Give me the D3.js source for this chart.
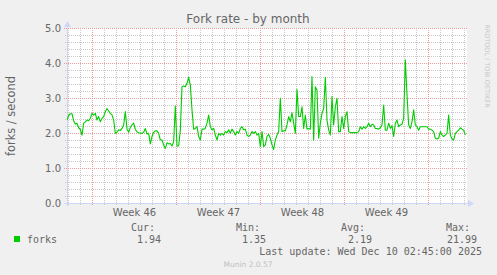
<!DOCTYPE html>
<html>
<head>
<meta charset="utf-8">
<script src="https://cdn.jsdelivr.net/npm/d3@7/dist/d3.min.js"></script>
<style>
  body { margin: 0; background: #F0F0F0; }
  svg { display: block; }
  .sans { font-family: "DejaVu Sans", sans-serif; fill: #666; }
  .mono { font-family: "DejaVu Sans Mono", monospace; fill: #666; }
</style>
</head>
<body>
<svg id="chart" width="497" height="275"></svg>
<script>
(function() {
  'use strict';

  // data (one value every 200 minutes)
  var seriesStart = '2025-11-07T22:00:00Z';
  var seriesStepMinutes = 200;

  var forksWeek45 = [2.37, 2.50, 2.55, 2.55, 2.35, 2.26, 2.28, 2.15, 2.10, 1.94,
    2.28, 2.32, 2.37, 2.35, 2.42, 2.56, 2.51, 2.56, 2.37, 2.47,
    2.32, 2.42, 2.47, 2.61, 2.70, 2.63, 2.56, 2.52, 2.37, 1.99,
    2.02, 2.09, 2.07, 2.13, 2.23, 2.61, 2.11, 2.02, 2.16, 2.23,
    2.28, 2.10, 2.04, 2.00, 2.00, 1.99, 2.02, 2.13, 1.97, 1.99,
    1.69, 1.90, 2.02, 2.06, 2.06, 1.99, 1.80, 1.80, 1.66];

  var forksWeek46 = [1.56, 1.72, 1.69, 1.70, 1.63, 1.75, 2.77, 1.63, 1.63, 2.09,
    3.32, 3.34, 3.32, 3.42, 3.59, 3.37, 2.66, 2.11, 2.13, 2.18,
    1.90, 1.80, 2.11, 2.11, 2.13, 2.28, 2.51, 2.18, 2.09, 2.13,
    1.94, 1.80, 1.99, 1.94, 1.99, 1.94, 2.04, 2.01, 2.09, 1.99,
    2.11, 2.04, 1.94, 2.04, 1.99, 2.13, 2.18, 2.09, 2.11, 1.94,
    1.90, 1.94, 2.04, 1.99, 2.04, 1.94, 1.99, 1.61, 2.04, 1.61];

  var forksWeek47 = [1.66, 1.90, 1.96, 1.85, 1.66, 1.53, 1.80, 1.94, 2.04, 2.99,
    2.04, 2.06, 2.06, 2.23, 2.47, 2.32, 2.58, 2.28, 1.99, 3.25,
    2.47, 2.47, 2.75, 2.13, 2.51, 2.11, 2.13, 2.11, 3.61, 1.80,
    3.32, 3.23, 1.85, 2.28, 2.56, 2.70, 3.59, 2.37, 2.09, 1.94,
    3.04, 2.23, 2.75, 2.99, 2.04, 2.04, 2.47, 2.13, 2.47, 2.61,
    2.04, 2.01, 2.01, 2.01, 2.01, 2.01, 2.04, 2.18, 2.11, 2.18];

  var forksWeek48 = [2.13, 2.18, 2.28, 2.18, 2.25, 2.23, 2.13, 2.13, 2.11, 2.15,
    2.23, 2.80, 2.08, 2.08, 2.28, 2.13, 2.21, 1.90, 2.28, 2.37,
    2.18, 2.23, 2.25, 2.42, 4.09, 3.10, 2.23, 2.13, 2.32, 2.66,
    2.23, 2.18, 2.08, 2.18, 2.18, 2.18, 2.18, 2.18, 2.11, 2.11,
    2.08, 2.04, 1.85, 1.83, 1.85, 2.04, 1.94, 1.90, 1.94, 1.99,
    2.51, 1.94, 1.83, 1.80, 1.99, 2.04, 2.08, 2.15, 2.11, 2.08, 1.94];

  var weekLabels = ['Week 46', 'Week 47', 'Week 48', 'Week 49'];
  var weekStarts = ['2025-11-10', '2025-11-17', '2025-11-24', '2025-12-01', '2025-12-08'];
  var yTicks = [0, 1, 2, 3, 4, 5];

  var legendHeads = ['Cur:', 'Min:', 'Avg:', 'Max:'];
  var legendValues = ['1.94', '1.35', '2.19', '21.99'];

  var colorLine = '#00CC00';
  var colorAxis = '#CFD6F8';
  var colorGrid = '#C8C8C8';
  var colorMajor = '#EE9A9A';

  var svg = d3.select('#chart');

  var x = d3.scaleUtc()
    .domain([new Date('2025-11-07T22:00:00Z'), new Date('2025-12-11T06:00:00Z')])
    .range([67, 467]);

  var y = d3.scaleLinear()
    .domain([0, 5])
    .range([203, 28]);

  var t0 = new Date(seriesStart).getTime();
  var forks = forksWeek45.concat(forksWeek46, forksWeek47, forksWeek48).map(function(v, i) {
    return { date: new Date(t0 + i * seriesStepMinutes * 60000), value: v };
  });

  var x0 = x.range()[0], x1 = x.range()[1];
  var y0 = y.range()[0], y1 = y.range()[1];

  // canvas
  svg.append('rect')
    .attr('x', x0).attr('y', y1)
    .attr('width', x1 - x0).attr('height', y0 - y1)
    .attr('fill', '#fff');

  // vertical lines get a half pixel in x, horizontal ones in y, so the dots stay crisp
  var vgrid = svg.append('g').attr('transform', 'translate(0.5,0)');
  var hgrid = svg.append('g').attr('transform', 'translate(0,0.5)');

  // minor grid, one line per day and per 0.2
  var days = d3.utcDay.range(x.domain()[0], x.domain()[1]);
  var minorY = d3.range(1, 25).map(function(i) { return i / 5; })
    .filter(function(v) { return Math.abs(v - Math.round(v)) > 1e-6; });

  vgrid.selectAll('line.vminor')
    .data(days)
    .enter().append('line')
    .attr('class', 'vminor')
    .attr('x1', function(d) { return Math.round(x(d)); })
    .attr('x2', function(d) { return Math.round(x(d)); })
    .attr('y1', y1).attr('y2', y0 + 3)
    .attr('stroke', colorGrid)
    .attr('stroke-dasharray', '1,1');

  hgrid.selectAll('line.hminor')
    .data(minorY)
    .enter().append('line')
    .attr('class', 'hminor')
    .attr('x1', x0 - 2).attr('x2', x1)
    .attr('y1', function(d) { return Math.round(y(d)); })
    .attr('y2', function(d) { return Math.round(y(d)); })
    .attr('stroke', colorGrid)
    .attr('stroke-dasharray', '1,1');

  // major grid, weeks and whole units
  var weeks = weekStarts.map(function(s) { return new Date(s + 'T00:00:00Z'); });

  vgrid.selectAll('line.vmajor')
    .data(weeks)
    .enter().append('line')
    .attr('class', 'vmajor')
    .attr('x1', function(d) { return Math.round(x(d)); })
    .attr('x2', function(d) { return Math.round(x(d)); })
    .attr('y1', y1).attr('y2', y0 + 3)
    .attr('stroke', colorMajor)
    .attr('stroke-dasharray', '1,1');

  hgrid.selectAll('line.hmajor')
    .data(yTicks.slice(1))
    .enter().append('line')
    .attr('class', 'hmajor')
    .attr('x1', x0 - 3).attr('x2', x1)
    .attr('y1', function(d) { return Math.round(y(d)); })
    .attr('y2', function(d) { return Math.round(y(d)); })
    .attr('stroke', colorMajor)
    .attr('stroke-dasharray', '1,1');

  // axes lines and arrows
  hgrid.append('line')
    .attr('x1', x0 - 3).attr('x2', x1 + 2)
    .attr('y1', y0).attr('y2', y0)
    .attr('stroke', colorAxis);
  vgrid.append('line')
    .attr('x1', x0).attr('x2', x0)
    .attr('y1', y0 + 3).attr('y2', y1 - 4)
    .attr('stroke', colorAxis);

  svg.append('path')
    .attr('d', 'M' + (x1 + 1) + ',' + (y0 - 3) + 'L' + (x1 + 7) + ',' + (y0 + 0.5) + 'L' + (x1 + 1) + ',' + (y0 + 4) + 'Z')
    .attr('fill', colorAxis);
  svg.append('path')
    .attr('d', 'M' + (x0 - 3) + ',' + (y1 - 1) + 'L' + (x0 + 0.5) + ',' + (y1 - 7) + 'L' + (x0 + 4) + ',' + (y1 - 1) + 'Z')
    .attr('fill', colorAxis);

  // series
  var clip = svg.append('clipPath').attr('id', 'plotclip');
  clip.append('rect')
    .attr('x', x0).attr('y', y1)
    .attr('width', x1 - x0).attr('height', y0 - y1);

  var line = d3.line()
    .x(function(d) { return x(d.date); })
    .y(function(d) { return y(d.value); });

  svg.append('path')
    .datum(forks)
    .attr('clip-path', 'url(#plotclip)')
    .attr('fill', 'none')
    .attr('stroke', colorLine)
    .attr('stroke-width', 1.1)
    .attr('stroke-linejoin', 'round')
    .attr('d', line);

  // y tick labels
  var yAxis = svg.append('g')
    .attr('transform', 'translate(' + (x0 - 6) + ',0)')
    .call(d3.axisLeft(y).tickValues(yTicks).tickFormat(d3.format('.1f')).tickSize(0).tickPadding(0));
  yAxis.select('.domain').remove();
  yAxis.selectAll('text')
    .attr('class', 'sans')
    .attr('fill', null)
    .style('font-size', '10px');

  // x labels centred in each week
  var mids = weekLabels.map(function(d, i) {
    return new Date((weeks[i].getTime() + weeks[i + 1].getTime()) / 2);
  });
  var xAxis = svg.append('g')
    .attr('transform', 'translate(0,' + (y0 + 6) + ')')
    .call(d3.axisBottom(x).tickValues(mids).tickFormat(function(d, i) { return weekLabels[i]; }).tickSize(0).tickPadding(0));
  xAxis.select('.domain').remove();
  xAxis.selectAll('text')
    .attr('class', 'sans')
    .attr('fill', null)
    .style('font-size', '10px');

  // title and axis title
  svg.append('text')
    .attr('class', 'sans')
    .attr('x', 248).attr('y', 23)
    .attr('text-anchor', 'middle')
    .style('font-size', '12px')
    .text('Fork rate - by month');

  svg.append('text')
    .attr('class', 'sans')
    .attr('transform', 'translate(15,116) rotate(-90)')
    .attr('text-anchor', 'middle')
    .style('font-size', '11.4px')
    .text('forks / second');

  svg.append('text')
    .attr('class', 'sans')
    .attr('transform', 'translate(485,66) rotate(90)')
    .attr('text-anchor', 'middle')
    .style('font-size', '6.5px')
    .style('fill', '#C8C8C8')
    .text('RRDTOOL / TOBI OETIKER');

  // legend
  var colsHead = [155, 260, 365, 470];
  var colsValue = [161, 266, 372, 477];

  svg.append('rect')
    .attr('x', 14).attr('y', 236)
    .attr('width', 6).attr('height', 6)
    .attr('fill', colorLine);

  svg.append('text')
    .attr('class', 'mono')
    .attr('x', 27).attr('y', 243)
    .style('font-size', '10px')
    .text('forks');

  svg.selectAll('text.lhead')
    .data(legendHeads)
    .enter().append('text')
    .attr('class', 'mono lhead')
    .attr('x', function(d, i) { return colsHead[i]; })
    .attr('y', 231)
    .attr('text-anchor', 'end')
    .style('font-size', '10px')
    .text(function(d) { return d; });

  svg.selectAll('text.lval')
    .data(legendValues)
    .enter().append('text')
    .attr('class', 'mono lval')
    .attr('x', function(d, i) { return colsValue[i]; })
    .attr('y', 243)
    .attr('text-anchor', 'end')
    .style('font-size', '10px')
    .text(function(d) { return d; });

  svg.append('text')
    .attr('class', 'mono')
    .attr('x', 482).attr('y', 255)
    .attr('text-anchor', 'end')
    .style('font-size', '10px')
    .text('Last update: Wed Dec 10 02:45:00 2025');

  svg.append('text')
    .attr('class', 'sans')
    .attr('x', 248).attr('y', 267)
    .attr('text-anchor', 'middle')
    .style('font-size', '7.5px')
    .style('fill', '#C0C0C0')
    .text('Munin 2.0.57');
})();
</script>
</body>
</html>
